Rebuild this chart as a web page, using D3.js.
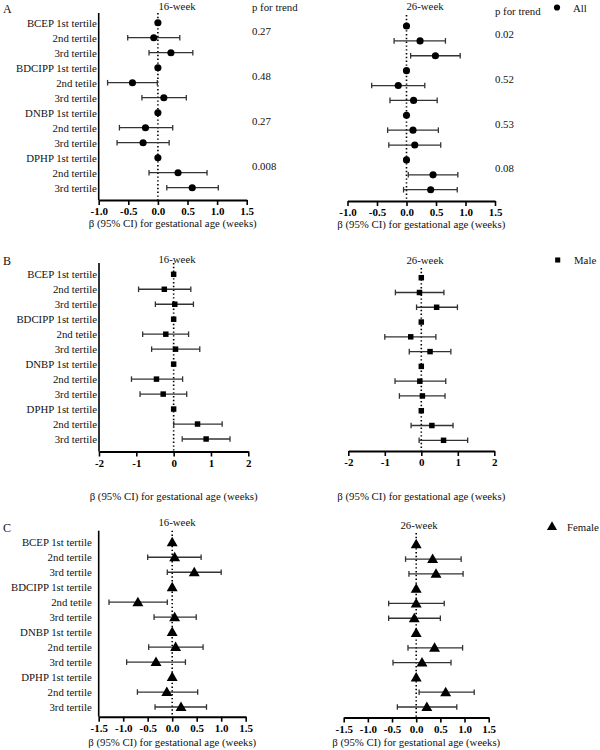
<!DOCTYPE html>
<html>
<head>
<meta charset="utf-8">
<script src="https://cdn.jsdelivr.net/npm/d3@7/dist/d3.min.js"></script>
<style>
  body { margin: 0; background: #fff; }
  svg text { font-family: "Liberation Serif", "Times New Roman", serif; }
</style>
</head>
<body>
<svg id="chart" width="600" height="750"></svg>
<script>
// ---------- data ----------
const rowLabels = ["BCEP 1st tertile", "2nd tertile", "3rd tertile",
  "BDCIPP 1st tertile", "2nd tetile", "3rd tertile",
  "DNBP 1st tertile", "2nd tertile", "3rd tertile",
  "DPHP 1st tertile", "2nd tertile", "3rd tertile"];

// [estimate, lower CI, upper CI]; reference (1st tertile) rows = 0 with no CI
const all16 = [[0,null,null],[-0.07,-0.51,0.37],[0.22,-0.15,0.59],
  [0,null,null],[-0.43,-0.85,-0.01],[0.10,-0.27,0.48],
  [0,null,null],[-0.21,-0.65,0.25],[-0.25,-0.69,0.19],
  [0,null,null],[0.34,-0.15,0.83],[0.58,0.15,1.02]];
const all26 = [[0,null,null],[0.23,-0.21,0.66],[0.49,0.07,0.91],
  [0,null,null],[-0.14,-0.59,0.31],[0.12,-0.28,0.52],
  [0,null,null],[0.11,-0.32,0.54],[0.14,-0.30,0.58],
  [0,null,null],[0.45,0.03,0.87],[0.41,-0.05,0.86]];
const male16 = [[0,null,null],[-0.25,-0.94,0.46],[0.03,-0.49,0.53],
  [0,null,null],[-0.21,-0.83,0.40],[0.05,-0.59,0.70],
  [0,null,null],[-0.46,-1.13,0.24],[-0.28,-0.90,0.35],
  [0,null,null],[0.64,0.0,1.30],[0.87,0.23,1.51]];
const male26 = [[0,null,null],[-0.05,-0.71,0.62],[0.42,-0.13,0.99],
  [0,null,null],[-0.29,-1.00,0.40],[0.24,-0.33,0.81],
  [0,null,null],[-0.04,-0.72,0.67],[0.03,-0.60,0.65],
  [0,null,null],[0.29,-0.28,0.87],[0.61,-0.06,1.27]];
const female16 = [[0,null,null],[0.05,-0.50,0.59],[0.45,-0.10,1.00],
  [0,null,null],[-0.70,-1.29,-0.10],[0.05,-0.37,0.49],
  [0,null,null],[0.07,-0.48,0.63],[-0.33,-0.93,0.27],
  [0,null,null],[-0.11,-0.71,0.52],[0.18,-0.35,0.70]];
const female26 = [[0,null,null],[0.34,-0.22,0.93],[0.41,-0.15,0.97],
  [0,null,null],[0.00,-0.57,0.58],[-0.04,-0.57,0.50],
  [0,null,null],[0.38,-0.17,0.96],[0.12,-0.48,0.72],
  [0,null,null],[0.61,0.06,1.20],[0.22,-0.39,0.84]];

const pAll16 = ["0.27", "0.48", "0.27", "0.008"];
const pAll26 = ["0.02", "0.52", "0.53", "0.08"];

const ticksA = [-1.0, -0.5, 0, 0.5, 1.0, 1.5];
const ticksB = [-2, -1, 0, 1, 2];
const ticksC = [-1.5, -1.0, -0.5, 0, 0.5, 1.0, 1.5];

const axisTitle = "\u03b2 (95% CI) for gestational age (weeks)";

// ---------- drawing ----------
const FONT = "'Liberation Serif', 'Times New Roman', serif";
const FS = 10.8;
const svg = d3.select("#chart");

function symbolPath(kind, size) {
  const t = kind === "circle" ? d3.symbolCircle : kind === "square" ? d3.symbolSquare : d3.symbolTriangle;
  return d3.symbol().type(t).size(size)();
}

function txt(sel, size) {
  return sel.attr("font-family", FONT).attr("font-size", size).attr("fill", "#111");
}

function drawPanel(cfg) {
  const g = svg.append("g");
  const x = d3.scaleLinear().domain(cfg.domain).range(cfg.xRange);
  const y = d3.scalePoint().domain(d3.range(rowLabels.length)).range(cfg.yRange);

  if (cfg.labels) {
    g.append("line")
      .attr("x1", cfg.xRange[0]).attr("x2", cfg.xRange[0])
      .attr("y1", cfg.top).attr("y2", cfg.axisY)
      .attr("stroke", "#000").attr("stroke-width", 1.6);
    const yAxis = d3.axisLeft(y).tickSize(0).tickPadding(cfg.labelPad)
      .tickFormat(i => rowLabels[i]);
    const ya = g.append("g").attr("transform", `translate(${cfg.xRange[0]},0)`).call(yAxis);
    ya.attr("font-family", null).attr("font-size", null);
    ya.select(".domain").remove();
    txt(ya.selectAll("text"), FS);
  }

  g.append("line")
    .attr("x1", x(0)).attr("x2", x(0))
    .attr("y1", cfg.top).attr("y2", cfg.axisY)
    .attr("stroke", "#000").attr("stroke-width", 1.6)
    .attr("stroke-dasharray", "1.4,2.4");

  const xAxis = d3.axisBottom(x).tickValues(cfg.ticks).tickSize(5).tickSizeOuter(0)
    .tickPadding(2.5).tickFormat(cfg.fmt);
  const xa = g.append("g").attr("transform", `translate(0,${cfg.axisY})`).call(xAxis);
  xa.attr("font-family", null).attr("font-size", null);
  xa.select(".domain").attr("stroke", "#000").attr("stroke-width", 2);
  xa.selectAll(".tick line").attr("stroke", "#000").attr("stroke-width", 1.6);
  txt(xa.selectAll("text"), 11).attr("font-weight", "bold").attr("fill", "#000");

  txt(g.append("text"), FS).attr("x", (cfg.xRange[0] + cfg.xRange[1]) / 2).attr("y", cfg.titleY)
    .attr("text-anchor", "middle").text(axisTitle);

  txt(g.append("text"), FS).attr("x", cfg.headX).attr("y", cfg.headY)
    .attr("text-anchor", "middle").text(cfg.head);

  const rows = cfg.data.map((d, i) => ({ i, est: d[0], lo: d[1], hi: d[2] }));
  const ci = rows.filter(d => d.lo !== null);
  const eb = g.append("g").attr("stroke", "#333").attr("stroke-width", 1.3);
  eb.selectAll("line.ci").data(ci).join("line").attr("class", "ci")
    .attr("x1", d => x(d.lo)).attr("x2", d => x(d.hi))
    .attr("y1", d => y(d.i)).attr("y2", d => y(d.i));
  eb.selectAll("line.capl").data(ci).join("line").attr("class", "capl")
    .attr("x1", d => x(d.lo)).attr("x2", d => x(d.lo))
    .attr("y1", d => y(d.i) - 2.8).attr("y2", d => y(d.i) + 2.8);
  eb.selectAll("line.caph").data(ci).join("line").attr("class", "caph")
    .attr("x1", d => x(d.hi)).attr("x2", d => x(d.hi))
    .attr("y1", d => y(d.i) - 2.8).attr("y2", d => y(d.i) + 2.8);

  const off = cfg.marker === "triangle" ? 0.8 : 0;
  g.selectAll("path.mk").data(rows).join("path").attr("class", "mk")
    .attr("d", symbolPath(cfg.marker, cfg.mSize))
    .attr("transform", d => `translate(${x(d.est)},${y(d.i) + off})`)
    .attr("fill", "#000");

  if (cfg.p) {
    txt(g.append("text"), FS).attr("x", cfg.pX).attr("y", cfg.pHeadY).text("p for trend");
    txt(g.selectAll("text.pv").data(cfg.p).join("text").attr("class", "pv"), FS)
      .attr("x", cfg.pX)
      .attr("y", (d, k) => (y(k * 3) + y(k * 3 + 1)) / 2 + cfg.pDy)
      .text(d => d);
  }
}

const fmt1 = d => d.toFixed(1);
const fmt0 = d => String(d);

// Panel A
drawPanel({ domain: [-1, 1.5], xRange: [98.7, 246.7], yRange: [22.7, 187.7], top: 13, axisY: 200,
  ticks: ticksA, fmt: fmt1, titleY: 227, head: "16-week", headX: 177, headY: 10,
  data: all16, marker: "circle", mSize: 40, labels: true, labelPad: 2,
  p: pAll16, pX: 252, pHeadY: 11, pDy: 5 });
drawPanel({ domain: [-1, 1.5], xRange: [347.5, 495], yRange: [26, 189.7], top: 15, axisY: 201,
  ticks: ticksA, fmt: fmt1, titleY: 228, head: "26-week", headX: 425, headY: 10,
  data: all26, marker: "circle", mSize: 40, labels: false,
  p: pAll26, pX: 495, pHeadY: 15, pDy: 5 });

// Panel B
drawPanel({ domain: [-2, 2], xRange: [99, 248.3], yRange: [274.3, 439], top: 263, axisY: 451.5,
  ticks: ticksB, fmt: fmt0, titleY: 500, head: "16-week", headX: 177, headY: 263,
  data: male16, marker: "square", mSize: 30, labels: true, labelPad: 2 });
drawPanel({ domain: [-2, 2], xRange: [348.3, 494.3], yRange: [277.7, 440.3], top: 268, axisY: 451,
  ticks: ticksB, fmt: fmt0, titleY: 500, head: "26-week", headX: 425, headY: 264,
  data: male26, marker: "square", mSize: 30, labels: false });

// Panel C
drawPanel({ domain: [-1.5, 1.5], xRange: [98.7, 245.7], yRange: [542.3, 707], top: 530.7, axisY: 716.7,
  ticks: ticksC, fmt: fmt1, titleY: 745.5, head: "16-week", headX: 177, headY: 526,
  data: female16, marker: "triangle", mSize: 52, labels: true, labelPad: 7 });
drawPanel({ domain: [-1.5, 1.5], xRange: [343.7, 488.7], yRange: [544.3, 707], top: 533, axisY: 717.5,
  ticks: ticksC, fmt: fmt1, titleY: 745.5, head: "26-week", headX: 419, headY: 529,
  data: female26, marker: "triangle", mSize: 52, labels: false });

// Panel letters
[["A", 3, 13], ["B", 3, 265], ["C", 3, 532]].forEach(([t, lx, ly]) => {
  txt(svg.append("text"), 12).attr("x", lx).attr("y", ly).text(t);
});

// Legends
const legends = [
  { m: "circle", s: 30, label: "All", mx: 557, my: 7.5, tx: 573, ty: 11.5 },
  { m: "square", s: 26, label: "Male", mx: 557.7, my: 260, tx: 574, ty: 264 },
  { m: "triangle", s: 44, label: "Female", mx: 552, my: 527, tx: 567, ty: 531 }
];
legends.forEach(l => {
  svg.append("path").attr("d", symbolPath(l.m, l.s))
    .attr("transform", `translate(${l.mx},${l.my})`).attr("fill", "#000");
  txt(svg.append("text"), FS).attr("x", l.tx).attr("y", l.ty).text(l.label);
});
</script>
</body>
</html>
